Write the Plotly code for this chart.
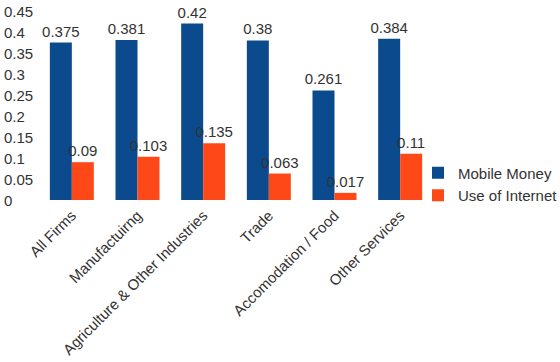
import plotly.graph_objects as go

categories = ["All Firms", "Manufactuirng", "Agriculture & Other Industries", "Trade",
              "Accomodation / Food", "Other Services"]
mobile_money = [0.375, 0.381, 0.42, 0.38, 0.261, 0.384]
use_internet = [0.09, 0.103, 0.135, 0.063, 0.017, 0.11]
y_ticks = [0, 0.05, 0.1, 0.15, 0.2, 0.25, 0.3, 0.35, 0.4, 0.45]
y_tick_labels = ["0", "0.05", "0.1", "0.15", "0.2", "0.25", "0.3", "0.35", "0.4", "0.45"]

FONT = "Liberation Sans, Arial, sans-serif"
TXT = "#333333"
W, H = 560, 362
ML, MR, MT, MB = 39, 127, 11, 162
PW = W - ML - MR

fig = go.Figure()
fig.add_trace(go.Bar(
    name="Mobile Money", x=categories, y=mobile_money,
    marker=dict(color="#0B4A8C", line=dict(width=0)),
    text=[str(v) for v in mobile_money], textposition="outside",
    textfont=dict(size=15, color=TXT, family=FONT), constraintext="none",
    cliponaxis=False,
))
fig.add_trace(go.Bar(
    name="Use of Internet", x=categories, y=use_internet,
    marker=dict(color="#FF4817", line=dict(width=0)),
    text=[str(v) for v in use_internet], textposition="outside",
    textfont=dict(size=15, color=TXT, family=FONT), constraintext="none",
    cliponaxis=False,
))

annotations = []
for v, lab in zip(y_ticks, y_tick_labels):
    annotations.append(dict(
        x=-(ML - 2) / PW, xref="paper", y=v, yref="y", text=lab,
        showarrow=False, xanchor="left", yanchor="middle",
        font=dict(size=15, color=TXT, family=FONT),
    ))

fig.update_layout(
    width=W, height=H,
    margin=dict(l=ML, r=MR, t=MT, b=MB, autoexpand=False),
    paper_bgcolor="white", plot_bgcolor="white",
    barmode="group", bargap=0.33, bargroupgap=0,
    font=dict(family=FONT, size=15, color=TXT),
    showlegend=True,
    legend=dict(
        x=(418 - ML) / PW, xanchor="left", y=0.085, yanchor="middle",
        font=dict(size=15, color=TXT, family=FONT),
        bgcolor="rgba(0,0,0,0)", tracegroupgap=0,
    ),
    xaxis=dict(
        tickangle=-45, showgrid=False, showline=False, zeroline=False,
        ticks="", automargin=False, ticklabelstandoff=3,
        tickfont=dict(size=15, color=TXT, family=FONT),
    ),
    yaxis=dict(
        range=[0, 0.45], tickvals=y_ticks, showticklabels=False,
        showgrid=False, showline=False, zeroline=False, ticks="",
        automargin=False,
    ),
    annotations=annotations,
)

fig.write_html(
    "out.html",
    config={"displayModeBar": False},
    post_script="document.body.style.margin='0';document.body.style.padding='0';",
)
